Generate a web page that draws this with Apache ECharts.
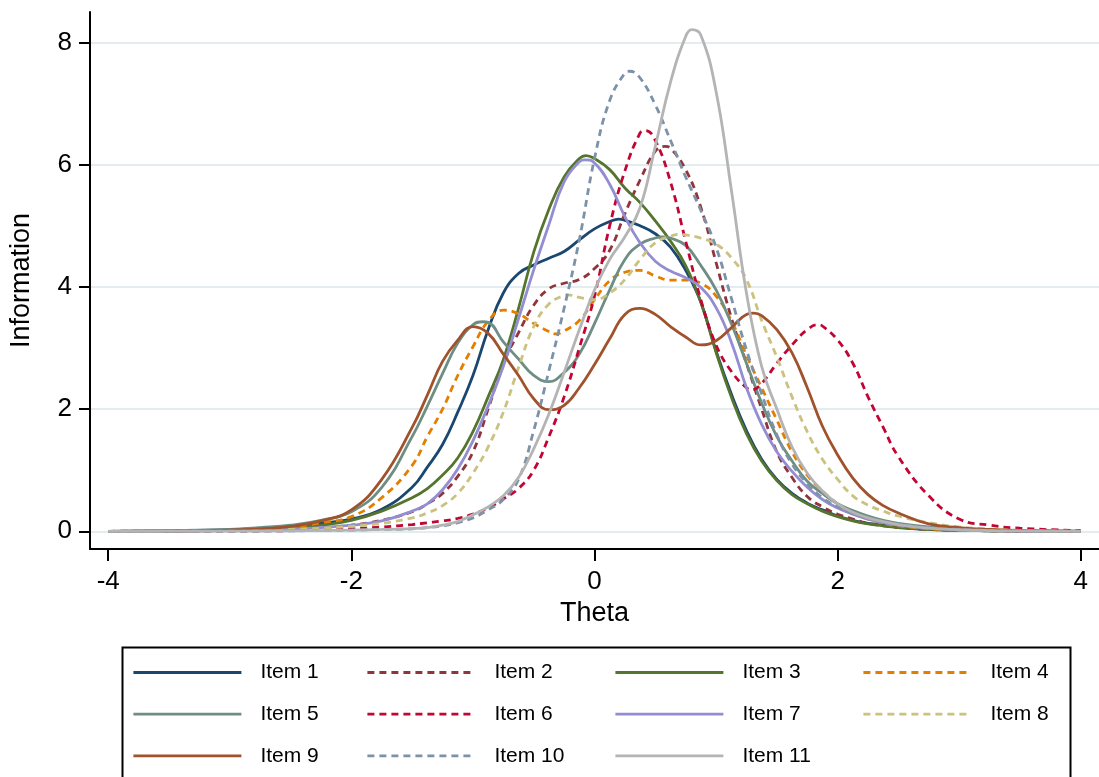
<!DOCTYPE html>
<html><head><meta charset="utf-8">
<script src="https://cdn.jsdelivr.net/npm/echarts@6/dist/echarts.min.js"></script>
<style>html,body{margin:0;padding:0;background:#fff}#chart{width:1099px;height:777px}</style>
</head><body><div id="chart"></div>
<script>
// ---- data ----
const theta = [-4, -3.5, -3, -2.75, -2.5, -2.25, -2, -1.75,
  -1.5, -1.375, -1.25, -1.125, -1, -0.875, -0.75, -0.625, -0.5, -0.375, -0.25, -0.125, 0,
  0.125, 0.25, 0.375, 0.5, 0.625, 0.75, 0.875, 1,
  1.125, 1.25, 1.375, 1.5, 1.625, 1.75, 1.875, 2,
  2.125, 2.25, 2.375, 2.5,
  2.75, 3, 3.25, 3.5, 4];
const item1 = [0, 0.005, 0.025, 0.05, 0.08, 0.13, 0.2, 0.36,
  0.72, 1.05, 1.42, 1.95, 2.55, 3.3, 3.9, 4.22, 4.36, 4.47, 4.58, 4.77, 4.95,
  5.07, 5.09, 5.0, 4.87, 4.65, 4.27, 3.75, 2.95,
  2.25, 1.65, 1.18, 0.85, 0.62, 0.46, 0.35, 0.25,
  0.18, 0.13, 0.1, 0.065,
  0.03, 0.015, 0.008, 0.004, 0];
const item2 = [0, 0.002, 0.01, 0.02, 0.035, 0.06, 0.1, 0.18,
  0.32, 0.45, 0.62, 0.9, 1.3, 2.0, 2.75, 3.25, 3.7, 3.97, 4.06, 4.12, 4.3,
  4.6, 5.2, 5.75, 6.22, 6.27, 5.92, 5.3, 4.4,
  3.5, 2.75, 2.0, 1.3, 0.88, 0.57, 0.4, 0.28,
  0.2, 0.13, 0.09, 0.06,
  0.03, 0.015, 0.008, 0.004, 0];
const item3 = [0, 0.005, 0.02, 0.035, 0.06, 0.1, 0.18, 0.33,
  0.55, 0.7, 0.92, 1.2, 1.63, 2.2, 2.81, 3.65, 4.57, 5.27, 5.8, 6.1, 6.1,
  5.92, 5.62, 5.38, 5.08, 4.75, 4.35, 3.75, 2.93,
  2.2, 1.6, 1.15, 0.83, 0.6, 0.45, 0.33, 0.24,
  0.17, 0.12, 0.09, 0.06,
  0.03, 0.015, 0.008, 0.004, 0];
const item4 = [0, 0.005, 0.02, 0.04, 0.07, 0.14, 0.24, 0.55,
  1.08, 1.55, 2.0, 2.55, 3.02, 3.44, 3.62, 3.56, 3.4, 3.27, 3.28, 3.45, 3.79,
  4.1, 4.24, 4.27, 4.18, 4.11, 4.11, 4.06, 3.85,
  3.45, 2.88, 2.35, 1.82, 1.3, 0.92, 0.66, 0.45,
  0.29, 0.2, 0.13, 0.09,
  0.04, 0.02, 0.01, 0.005, 0];
const item5 = [0, 0.01, 0.03, 0.06, 0.1, 0.18, 0.32, 0.72,
  1.55, 2.05, 2.58, 3.08, 3.38, 3.42, 3.1, 2.82, 2.55, 2.45, 2.6, 2.9, 3.4,
  3.95, 4.45, 4.7, 4.8, 4.8, 4.68, 4.35, 3.95,
  3.4, 2.75, 2.1, 1.55, 1.15, 0.82, 0.62, 0.45,
  0.34, 0.25, 0.18, 0.13,
  0.07, 0.035, 0.02, 0.01, 0];
const item6 = [0, 0, 0.002, 0.005, 0.01, 0.02, 0.04, 0.07,
  0.11, 0.14, 0.17, 0.21, 0.28, 0.38, 0.53, 0.7, 1.0, 1.55, 2.2, 3.0, 3.85,
  5.0, 5.9, 6.52, 6.4, 5.72, 4.75, 3.79, 3.05,
  2.62, 2.35, 2.42, 2.75, 3.05, 3.3, 3.36, 3.13,
  2.75, 2.2, 1.7, 1.22,
  0.58, 0.2, 0.1, 0.05, 0.01];
const item7 = [0, 0.002, 0.01, 0.02, 0.035, 0.06, 0.1, 0.17,
  0.33, 0.45, 0.68, 1.02, 1.48, 2.05, 2.7, 3.48, 4.28, 5.02, 5.72, 6.05, 6.03,
  5.68, 5.15, 4.72, 4.42, 4.26, 4.15, 3.99, 3.66,
  3.1, 2.35, 1.75, 1.3, 0.98, 0.72, 0.52, 0.38,
  0.28, 0.2, 0.14, 0.1,
  0.05, 0.02, 0.01, 0.005, 0];
const item8 = [0, 0.003, 0.01, 0.02, 0.03, 0.05, 0.08, 0.13,
  0.22, 0.3, 0.42, 0.62, 0.95, 1.38, 1.95, 2.68, 3.35, 3.72, 3.86, 3.83, 3.79,
  3.9, 4.12, 4.45, 4.72, 4.83, 4.85, 4.8, 4.7,
  4.48, 4.12, 3.45, 2.85, 2.2, 1.63, 1.18, 0.85,
  0.58, 0.43, 0.33, 0.25,
  0.14, 0.07, 0.035, 0.015, 0];
const item9 = [0, 0.002, 0.02, 0.04, 0.08, 0.17, 0.35, 0.85,
  1.7, 2.23, 2.78, 3.13, 3.35, 3.24, 2.9, 2.55, 2.17, 1.99, 2.06, 2.35, 2.73,
  3.15, 3.55, 3.65, 3.55, 3.35, 3.18, 3.05, 3.12,
  3.33, 3.55, 3.53, 3.3, 2.92, 2.35, 1.72, 1.25,
  0.87, 0.6, 0.42, 0.3,
  0.12, 0.06, 0.03, 0.015, 0];
const item10 = [0, 0, 0.003, 0.005, 0.008, 0.012, 0.02, 0.03,
  0.04, 0.06, 0.09, 0.14, 0.22, 0.35, 0.52, 0.85, 1.65, 2.63, 3.65, 4.77, 6.1,
  7.05, 7.5, 7.42, 6.98, 6.4, 5.8, 5.25, 4.65,
  3.82, 2.97, 2.25, 1.58, 1.1, 0.78, 0.55, 0.4,
  0.29, 0.21, 0.16, 0.12,
  0.06, 0.03, 0.015, 0.008, 0];
const item11 = [0, 0.001, 0.003, 0.005, 0.008, 0.012, 0.02, 0.03,
  0.045, 0.06, 0.1, 0.16, 0.27, 0.4, 0.58, 0.88, 1.35, 1.92, 2.6, 3.3, 3.95,
  4.45, 4.82, 5.3, 6.3, 7.35, 8.1, 8.12, 7.2,
  5.6, 3.9, 2.7, 2.0, 1.38, 0.95, 0.66, 0.45,
  0.31, 0.22, 0.16, 0.11,
  0.05, 0.025, 0.012, 0.006, 0];
// turning points (theta, value)
const turns1 = [[0.2, 5.11]];
const turns2 = [[0.58, 6.3]];
const turns3 = [[-0.07, 6.15]];
const turns4 = [[-0.32, 3.23]];
const turns5 = [[-0.92, 3.43], [0.56, 4.82]];
const turns6 = [[0.42, 6.56], [1.3, 2.32], [1.84, 3.38]];
const turns7 = [[-0.08, 6.08]];
const turns8 = [[-0.22, 3.87], [0.7, 4.86]];
const turns9 = [[1.31, 3.57]];
const turns10 = [[0.29, 7.53]];
const turns11 = [[0.8, 8.21]];
const itemNames = ['Item 1','Item 2','Item 3','Item 4','Item 5','Item 6','Item 7','Item 8','Item 9','Item 10','Item 11'];
const xTickValues = [-4, -2, 0, 2, 4];
const yTickValues = [0, 2, 4, 6, 8];
const legendColumns = [['Item 1','Item 5','Item 9'],['Item 2','Item 6','Item 10'],['Item 3','Item 7','Item 11'],['Item 4','Item 8']];

// ---- styles ----
const allValues = [item1,item2,item3,item4,item5,item6,item7,item8,item9,item10,item11];
const allTurns = [turns1,turns2,turns3,turns4,turns5,turns6,turns7,turns8,turns9,turns10,turns11];
const colors = ['#1a476f','#90353b','#55752f','#e37e00','#6e8e84','#c10534','#938dd2','#cac27e','#a0522d','#7b92a8','#b4b4b4'];
const dashed = [false,true,false,true,false,true,false,true,false,true,false];
const FONT = "'Liberation Sans', Arial, sans-serif";

const series = allValues.map((vals, k) => ({
  name: itemNames[k],
  type: 'line',
  data: theta.map((t, i) => [t, vals[i]]).concat(allTurns[k]).sort((a, b) => a[0] - b[0]),
  symbol: 'none',
  smooth: 0.45,
  lineStyle: { color: colors[k], width: 2.8, type: dashed[k] ? [7, 5] : 'solid' },
  itemStyle: { color: colors[k] },
  z: 2 + k
}));

const legendLefts = [132, 366, 614, 862];
const legends = legendColumns.map((col, c) => ({
  orient: 'vertical',
  left: legendLefts[c],
  top: 662,
  itemWidth: 108,
  itemHeight: 20,
  itemGap: 20.7,
  padding: 0,
  data: col,
  selectedMode: false,
  itemStyle: { opacity: 0 },
  lineStyle: { width: 2.8 },
  textStyle: { fontFamily: FONT, fontSize: 21, color: '#000', lineHeight: 20, padding: [0, 0, 0, 14] }
}));

const chart = echarts.init(document.getElementById('chart'), null, { renderer: 'canvas' });
chart.setOption({
  animation: false,
  backgroundColor: '#fff',
  grid: { left: 89, top: 12, right: 0, bottom: 228, containLabel: false },
  xAxis: {
    type: 'value', min: -4.15, max: 4.15,
    name: 'Theta', nameLocation: 'middle', nameGap: 48,
    nameTextStyle: { fontFamily: FONT, fontSize: 27, color: '#000' },
    axisLine: { show: true, onZero: false, lineStyle: { color: '#000', width: 2 } },
    axisTick: { show: true, length: 12, inside: false, customValues: xTickValues, lineStyle: { color: '#000', width: 2 } },
    axisLabel: { customValues: xTickValues, fontFamily: FONT, fontSize: 26, color: '#000', margin: 20 },
    splitLine: { show: false }
  },
  yAxis: {
    type: 'value', min: -0.29, max: 8.5,
    name: 'Information', nameLocation: 'middle', nameGap: 55,
    nameTextStyle: { fontFamily: FONT, fontSize: 27, color: '#000' },
    axisLine: { show: true, onZero: false, lineStyle: { color: '#000', width: 2 } },
    axisTick: { show: true, length: 11, inside: false, customValues: yTickValues, lineStyle: { color: '#000', width: 2 } },
    axisLabel: { customValues: yTickValues, fontFamily: FONT, fontSize: 26, color: '#000', margin: 18 },
    splitLine: { show: true, lineStyle: { color: '#e3ecef', width: 2 } }
  },
  legend: legends,
  graphic: [{
    type: 'rect', left: 120, top: 645, silent: true,
    shape: { width: 948, height: 150 },
    style: { fill: 'none', stroke: '#000', lineWidth: 2 }
  }],
  series: series
});
</script></body></html>
